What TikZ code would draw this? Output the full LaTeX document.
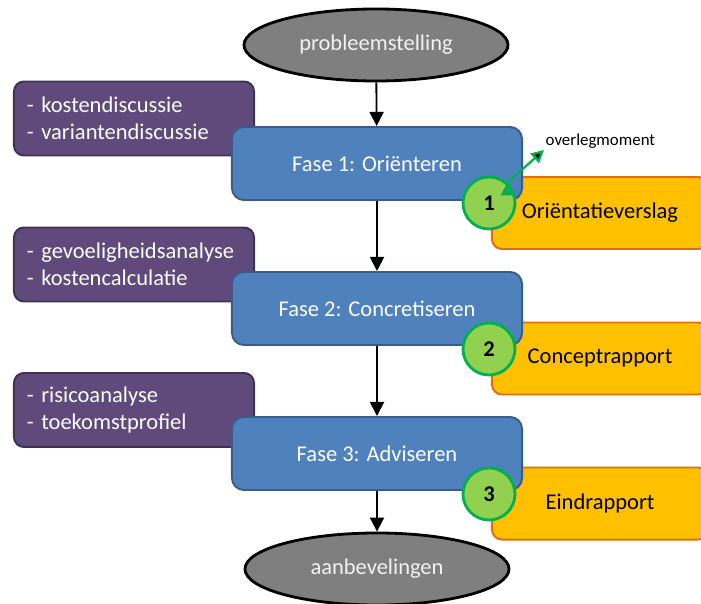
\documentclass[tikz,border=0pt]{standalone}
\usepackage{fontspec}
\setmainfont{Carlito}
\usepackage{tikz}
\usetikzlibrary{shapes.geometric,arrows.meta}

\definecolor{fasefill}{HTML}{4F81BD}
\definecolor{faseline}{HTML}{385D8A}
\definecolor{actfill}{HTML}{604A7B}
\definecolor{actline}{HTML}{3F3151}
\definecolor{docfill}{HTML}{FFC000}
\definecolor{docline}{HTML}{E46C0A}
\definecolor{momfill}{HTML}{92D050}
\definecolor{momline}{HTML}{00B050}
\definecolor{endfill}{HTML}{7F7F7F}

\begin{document}
\begin{tikzpicture}[x=0.025cm,y=-0.025cm,
        every node/.style={font=\fontsize{16}{19}\selectfont},
        endpoint/.style={ellipse,draw=black,line width=2pt,fill=endfill,text=white!95!black,
            minimum width=6.6cm,minimum height=1.8cm},
        fase/.style={rectangle,rounded corners=0.3cm,draw=faseline,line width=1.4pt,fill=fasefill,
            text=white,minimum width=7.25cm,minimum height=1.825cm},
        activity/.style={rectangle,rounded corners=0.25cm,draw=actline,line width=1.4pt,fill=actfill,
            text=white,text width=5.35cm,align=left,minimum height=1.85cm,inner xsep=0.325cm},
        document/.style={rectangle,rounded corners=0.25cm,draw=docline,line width=1.4pt,fill=docfill,
            minimum width=5.4cm,minimum height=1.8cm},
        moment/.style={circle,draw=momline,line width=2pt,fill=momfill,
            minimum size=1.3cm,inner sep=0pt,font=\fontsize{16}{19}\selectfont\bfseries}]

        \useasboundingbox (0,0) rectangle (701,603);

        \node[activity] at (134,118.5) (a1) {- kostendiscussie\\- variantendiscussie};
        \node[activity] at (134,264.5) (a2) {- gevoeligheidsanalyse\\- kostencalculatie};
        \node[activity] at (134,410) (a3) {- risicoanalyse\\- toekomstprofiel};

        \node[document] at (600,213) (d1) {Oriëntatieverslag};
        \node[document] at (600,358.5) (d2) {Conceptrapport};
        \node[document] at (600,503.5) (d3) {Eindrapport};

        \node[endpoint] at (376,45) (ps) {probleemstelling};

        \node[fase] at (377,163.5) (f1) {Fase 1: Oriënteren};
        \node[fase] at (377,308.5) (f2) {Fase 2: Concretiseren};
        \node[fase] at (377,453.5) (f3) {Fase 3: Adviseren};

        \node[endpoint] at (377,569) (ab) {aanbevelingen};

        \node[moment] at (489,203) (m1) {1};
        \node[moment] at (489,349) (m2) {2};
        \node[moment] at (489,494) (m3) {3};

        \node[anchor=west,inner sep=1pt,font=\fontsize{12}{14}\selectfont] at (544,141) (ol) {overlegmoment};

        \path[-{Triangle[length=10pt,width=10pt]},line width=1.3pt]
        (ps) edge (f1)
        (f1) edge (f2)
        (f2) edge (f3)
        (f3) edge (ab)
        ;

        \path[-{Triangle[length=9pt,width=9pt]},line width=1.6pt,draw=momline]
        (m1.48) edge (ol.south west)
        ;
    \end{tikzpicture}
\end{document}
